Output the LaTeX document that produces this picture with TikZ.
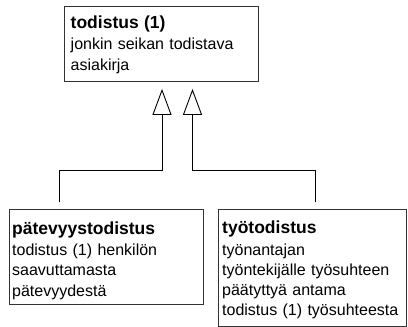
\documentclass[tikz,border=0pt]{standalone}
\usepackage{fontspec}
\setmainfont{Liberation Sans}
\usetikzlibrary{arrows.meta,calc}
\begin{document}
\begin{tikzpicture}[x=1pt,y=-1pt,
  box/.style={draw=black!80, line width=0.9pt, anchor=north west, inner sep=0pt},
  txt/.style={anchor=base west, inner sep=0pt, align=left, text width=#1,
    font=\fontsize{16}{20.3}\selectfont},
  gen/.style={draw=black, line width=0.9pt, -{Triangle[open, length=26pt, width=19pt, line width=0.9pt]}}
]
\useasboundingbox (0,0) rectangle (408,327);
% boxes
\node[box, minimum width=194pt, minimum height=75pt] (top) at (64,6) {};
\node[box, minimum width=194pt, minimum height=95pt] (left) at (9,209) {};
\node[box, minimum width=188pt, minimum height=117pt] (right) at (218,209) {};
% texts
\node[txt=185pt] (toptxt) at (70.5,28.3) {{\bfseries\fontsize{17.5}{21}\selectfont todistus (1)}\\[1.2pt]jonkin seikan todistava\\asiakirja};
\node[txt=190pt] (lefttxt) at (12,234) {{\bfseries\fontsize{17.5}{21}\selectfont pätevyystodistus}\\[1.2pt]todistus (1) henkilön\\saavuttamasta\\pätevyydestä};
\node[txt=185pt] (righttxt) at (222,233.5) {{\bfseries\fontsize{17.5}{21}\selectfont työtodistus}\\[1.2pt]työnantajan\\työntekijälle työsuhteen\\päätyttyä antama\\todistus (1) työsuhteesta};
% connector end points
\coordinate (s1) at ($(left.north west)+(50,-7)$);
\coordinate (t1) at ($(top.south west)+(98,7)$);
\coordinate (s2) at ($(right.north west)+(97,-7)$);
\coordinate (t2) at ($(top.south west)+(128.5,7)$);
\draw[gen] (s1) -- ++(0,-32) -| (t1);
\draw[gen] (s2) -- ++(0,-32) -| (t2);
\end{tikzpicture}
\end{document}
